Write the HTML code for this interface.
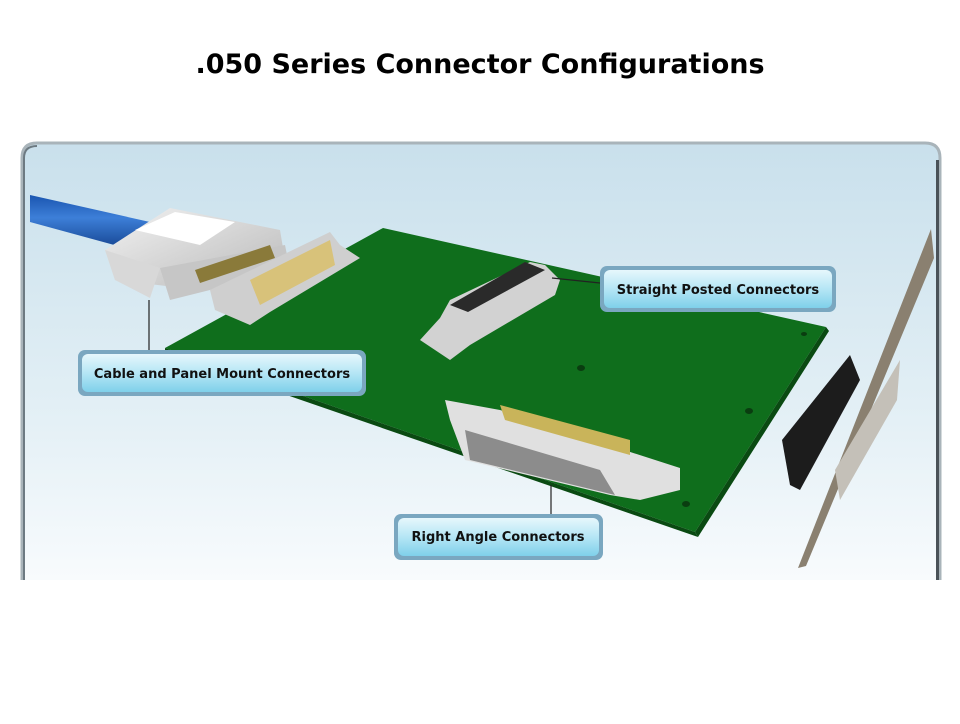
<!DOCTYPE html>
<html><head><meta charset="utf-8"><style>
body{margin:0;background:#fff;width:960px;height:720px;overflow:hidden;font-family:"DejaVu Sans","Liberation Sans",sans-serif}
</style></head><body>
<svg width="960" height="720" viewBox="0 0 960 720" xmlns="http://www.w3.org/2000/svg">
<defs>
<linearGradient id="bg" x1="0" y1="0" x2="0" y2="1">
<stop offset="0" stop-color="#c9e0ec"/><stop offset="0.6" stop-color="#e2eff5"/><stop offset="1" stop-color="#f8fbfd"/></linearGradient>
<linearGradient id="lbl" x1="0" y1="0" x2="0" y2="1">
<stop offset="0" stop-color="#e6f7fc"/><stop offset="0.5" stop-color="#b5e6f5"/><stop offset="1" stop-color="#7fd0ea"/></linearGradient>
<linearGradient id="cab" x1="0" y1="0" x2="0" y2="1">
<stop offset="0" stop-color="#1a55b0"/><stop offset="0.4" stop-color="#3d7fd8"/><stop offset="1" stop-color="#123f8a"/></linearGradient>
<linearGradient id="grey" x1="0" y1="0" x2="1" y2="1">
<stop offset="0" stop-color="#f2f2f2"/><stop offset="1" stop-color="#b8b8b8"/></linearGradient>
</defs>
<text x="480" y="73" text-anchor="middle" font-size="27" font-weight="bold" fill="#000">.050 Series Connector Configurations</text>
<path d="M22 580 V158 Q22 143 37 143 H925 Q940 143 940 158 V580" fill="url(#bg)" stroke="#a9b4ba" stroke-width="3"/>
<path d="M24 580 V158 Q24 146 37 146" fill="none" stroke="#6d7a82" stroke-width="2"/>
<rect x="936" y="160" width="3" height="420" fill="#4a5258"/>
<polygon points="165,348 383,228 826,327 695,532" fill="#0f6e1c"/>
<polygon points="695,532 826,327 829,331 698,537" fill="#0a4a12"/>
<polygon points="165,348 695,532 698,537 165,353" fill="#0a4a12"/>
<g fill="#0a3d10"><ellipse cx="581" cy="368" rx="4" ry="3"/><ellipse cx="749" cy="411" rx="4" ry="3"/><ellipse cx="686" cy="504" rx="4" ry="3"/><ellipse cx="804" cy="334" rx="3" ry="2"/></g>
<polygon points="30,195 150,222 140,252 30,222" fill="url(#cab)"/>
<polygon points="105,250 170,208 280,230 285,260 200,290 115,280" fill="url(#grey)"/>
<polygon points="135,230 175,212 235,222 200,245" fill="#fff"/>
<polygon points="105,250 115,280 150,298 160,268" fill="#d8d8d8"/>
<polygon points="160,268 285,245 290,270 170,300" fill="#c6c6c6"/>
<polygon points="195,270 270,245 275,258 200,283" fill="#8a7a3a"/>
<polygon points="210,290 330,232 340,245 360,258 270,312 250,325 215,310" fill="#cfcfcf"/>
<polygon points="250,280 330,240 335,265 260,305" fill="#d8c27a"/>
<polygon points="420,340 440,318 450,300 530,262 545,265 560,280 555,295 470,345 450,360" fill="#d2d2d2"/>
<polygon points="450,305 525,262 545,270 468,312" fill="#2a2a2a"/>
<polygon points="445,400 500,410 680,468 680,490 640,500 610,495 465,460 450,420" fill="#e0e0e0"/>
<polygon points="500,405 630,440 630,455 505,420" fill="#c9b45a"/>
<polygon points="465,430 600,470 615,495 470,460" fill="#8c8c8c"/>
<!-- side card -->
<polygon points="782,440 850,355 860,380 800,490 790,485" fill="#1c1c1c"/>
<polygon points="798,568 806,566 934,258 931,229" fill="#8a8070"/>
<polygon points="835,470 900,360 897,400 840,500" fill="#c4c0b8"/>
<g stroke="#222" stroke-width="1.2">
<line x1="149" y1="300" x2="149" y2="350"/>
<line x1="552" y1="278" x2="600" y2="283"/>
<line x1="551" y1="485" x2="551" y2="514"/>
</g>
<g font-size="13" font-weight="bold" fill="#111">
<rect x="78" y="350" width="288" height="46" rx="7" fill="#7aa7c0"/>
<rect x="82" y="354" width="280" height="38" rx="6" fill="url(#lbl)"/>
<text x="222" y="378" text-anchor="middle">Cable and Panel Mount Connectors</text>
<rect x="600" y="266" width="236" height="46" rx="7" fill="#7aa7c0"/>
<rect x="604" y="270" width="228" height="38" rx="6" fill="url(#lbl)"/>
<text x="718" y="294" text-anchor="middle">Straight Posted Connectors</text>
<rect x="394" y="514" width="209" height="46" rx="7" fill="#7aa7c0"/>
<rect x="398" y="518" width="201" height="38" rx="6" fill="url(#lbl)"/>
<text x="498" y="541" text-anchor="middle">Right Angle Connectors</text>
</g>
</svg>
</body></html>
